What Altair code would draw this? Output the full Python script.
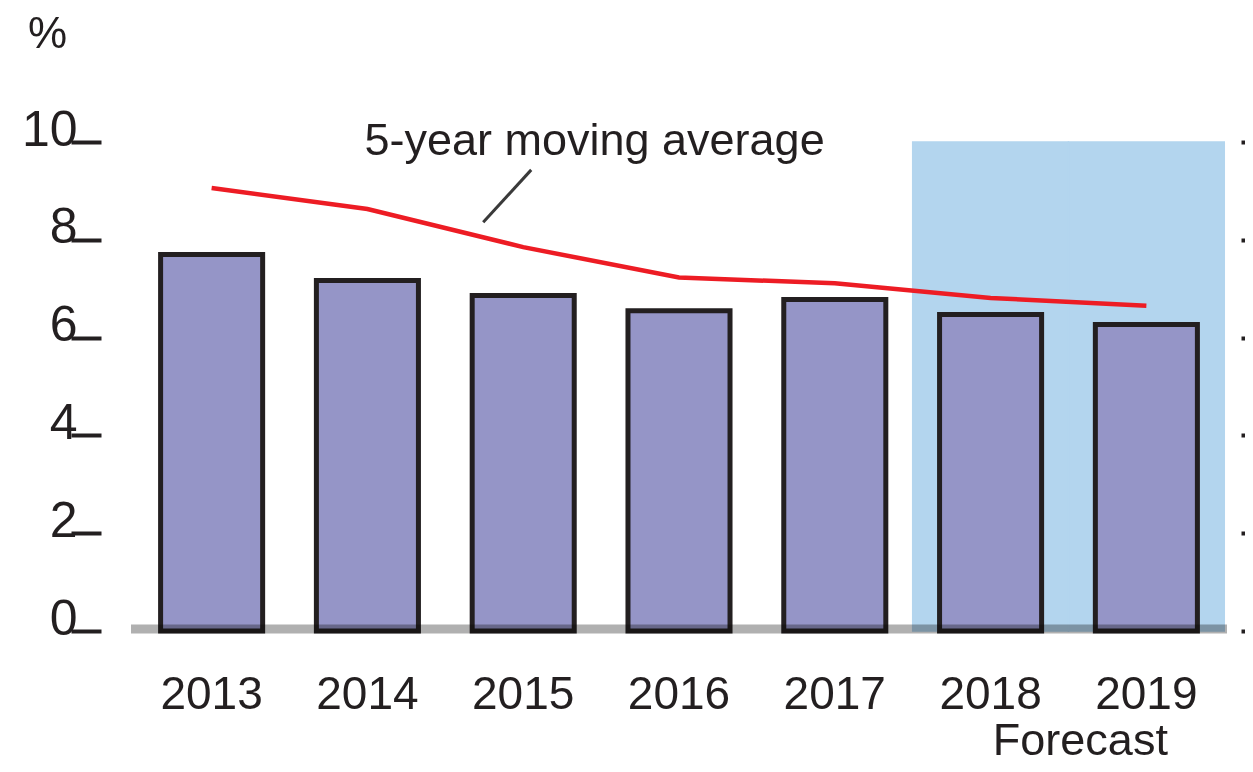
import altair as alt
import pandas as pd

years = ["2013", "2014", "2015", "2016", "2017", "2018", "2019"]
growth = [7.7, 7.17, 6.86, 6.55, 6.78, 6.47, 6.27]
moving_avg = [9.06, 8.63, 7.85, 7.23, 7.11, 6.81, 6.65]
forecast_years = ["2018", "2019"]
y_ticks = [0, 2, 4, 6, 8, 10]

FONT = "Liberation Sans"
INK = "#231f20"
W, H = 1096, 489

df = pd.DataFrame({"year": years, "growth": growth, "ma": moving_avg})
fc = pd.DataFrame({"year": forecast_years, "lo": [0, 0], "hi": [10, 10]})
base = pd.DataFrame({"v": [0]})

xscale = alt.Scale(domain=years, paddingInner=0.345, paddingOuter=0.19)
yscale = alt.Scale(domain=[0, 10], nice=False, zero=True)

x_axis = alt.Axis(title=None, ticks=False, domain=False, labelFont=FONT,
                  labelFontSize=46, labelColor=INK, labelPadding=77,
                  labelBaseline="alphabetic", labelAngle=0, grid=False)

y_left = alt.Axis(values=y_ticks, orient="left", offset=30, tickSize=30, tickWidth=4,
                  tickColor=INK, domain=False, grid=False, labelFont=FONT,
                  labelFontSize=50, labelColor=INK, labelPadding=-6,
                  labelBaseline="alphabetic", labelOffset=3,
                  title="%", titleAngle=0, titleFont=FONT, titleFontSize=44,
                  titleFontWeight="normal", titleColor=INK, titleX=-54, titleY=-108,
                  titleAlign="center", titleBaseline="middle")

y_right = alt.Axis(values=y_ticks, orient="right", offset=14, tickSize=12, tickWidth=4,
                   tickColor=INK, domain=False, grid=False, labels=False, title=None)

shade = alt.Chart(fc).mark_bar(color="#b3d5ee", stroke="#b3d5ee", strokeWidth=1.5,
                               width=alt.RelativeBandSize(1.5267)).encode(
    x=alt.X("year:N", scale=xscale, axis=x_axis),
    y=alt.Y("lo:Q", scale=yscale, axis=y_left),
    y2="hi:Q",
)

bars = alt.Chart(df).mark_bar(color="#9595c7", stroke=INK, strokeWidth=5).encode(
    x=alt.X("year:N", scale=xscale, axis=None),
    y=alt.Y("growth:Q", scale=yscale, axis=y_right),
)

base_rule = alt.Chart(base).mark_rule(color="#b0b0b0", strokeWidth=9, blend="multiply",
                                      yOffset=-2).encode(
    x=alt.value(0), x2=alt.value(W), y=alt.Y("v:Q", scale=yscale, axis=None)
)

line = alt.Chart(df).mark_line(color="#ed1c24", strokeWidth=4.5).encode(
    x=alt.X("year:N", scale=xscale, axis=None),
    y=alt.Y("ma:Q", scale=yscale, axis=None),
)

ann = pd.DataFrame({"year": ["2014"], "v": [9.73], "label": ["5-year moving average"]})
ann_text = alt.Chart(ann).mark_text(font=FONT, fontSize=45, color=INK, align="left",
                                    baseline="alphabetic", dx=-3).encode(
    x=alt.X("year:N", scale=xscale, axis=None),
    y=alt.Y("v:Q", scale=yscale, axis=None), text="label:N"
)

lead = pd.DataFrame({"year": ["2015"], "a": [8.36], "b": [9.43]})
leader = alt.Chart(lead).mark_rule(color="#3a3a3a", strokeWidth=3, xOffset=-40, x2Offset=8).encode(
    x=alt.X("year:N", scale=xscale, axis=None), x2="year:N",
    y=alt.Y("a:Q", scale=yscale, axis=None), y2="b:Q"
)

fc_lab = pd.DataFrame({"year": ["2019"], "label": ["Forecast"]})
fc_text = alt.Chart(fc_lab).mark_text(font=FONT, fontSize=45, color=INK, align="center",
                                      baseline="alphabetic", dx=-66).encode(
    x=alt.X("year:N", scale=xscale, axis=None), y=alt.value(H + 124), text="label:N"
)

chart = alt.layer(shade, bars, base_rule, line, leader, ann_text, fc_text).resolve_axis(
    y="independent", x="independent"
).properties(
    width=W, height=H,
    background="white",
    autosize=alt.AutoSizeParams(type="none"),
    padding={"left": 123, "top": 134, "right": 18, "bottom": 133},
).configure_view(stroke="transparent", strokeWidth=0)

chart.save("out.html", embed_options={"renderer": "svg", "actions": False})
